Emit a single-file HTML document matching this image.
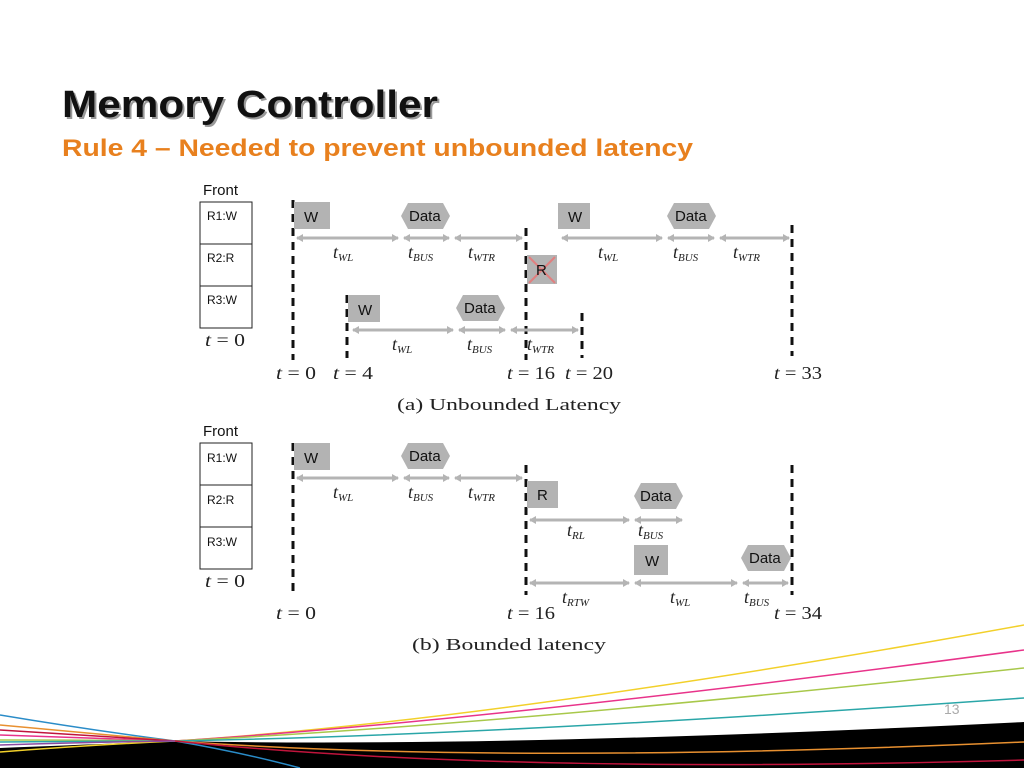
<!DOCTYPE html>
<html><head><meta charset="utf-8"><style>
html,body{margin:0;padding:0;background:#fff;}
svg{display:block;}
.m{font-family:"Liberation Serif",serif;font-style:italic;font-size:18px;fill:#222;}
.s{font-size:11px;}
.n{font-family:"Liberation Serif",serif;font-size:17px;fill:#222;}
.b{font-family:"Liberation Sans",sans-serif;font-size:15px;fill:#111;}
.f{font-family:"Liberation Sans",sans-serif;font-size:12px;fill:#111;}
.d{stroke:#111;stroke-width:3;stroke-dasharray:8,6;}
.a{stroke:#b4b4b4;stroke-width:3;marker-start:url(#ah);marker-end:url(#ah);}
.g{fill:#b3b3b3;}
</style></head><body>
<svg width="1024" height="768" viewBox="0 0 1024 768" xmlns="http://www.w3.org/2000/svg">
<defs>
<marker id="ah" markerWidth="8" markerHeight="8" refX="6" refY="4" orient="auto-start-reverse" markerUnits="userSpaceOnUse"><path d="M0,0 L7,4 L0,8 Z" fill="#b4b4b4"/></marker>
</defs>
<text x="64" y="119" font-family="Liberation Sans,sans-serif" font-weight="bold" font-size="38" fill="#999" textLength="376" lengthAdjust="spacingAndGlyphs">Memory Controller</text>
<text x="62" y="117" font-family="Liberation Sans,sans-serif" font-weight="bold" font-size="38" fill="#111" textLength="376" lengthAdjust="spacingAndGlyphs">Memory Controller</text>
<text x="62" y="156" font-family="Liberation Sans,sans-serif" font-weight="bold" font-size="24" fill="#e8801e" textLength="631" lengthAdjust="spacingAndGlyphs">Rule 4 – Needed to prevent unbounded latency</text>

<!-- (a) -->
<text x="203" y="195" class="b">Front</text>
<rect x="200" y="202" width="52" height="126" fill="#fff" stroke="#222" stroke-width="1"/>
<line x1="200" y1="244" x2="252" y2="244" stroke="#222"/><line x1="200" y1="286" x2="252" y2="286" stroke="#222"/>
<text x="207" y="220" class="f">R1:W</text><text x="207" y="262" class="f">R2:R</text><text x="207" y="304" class="f">R3:W</text>
<text x="205" y="346" class="m" textLength="40" lengthAdjust="spacingAndGlyphs">t <tspan font-style="normal">= 0</tspan></text>

<line x1="293" y1="200" x2="293" y2="360" class="d"/>
<rect x="294" y="202" width="36" height="27" class="g"/><text x="304" y="222" class="b">W</text>
<path d="M401,216 L408,203 L443,203 L450,216 L443,229 L408,229 Z" class="g"/><text x="409" y="221" class="b">Data</text>
<line x1="297" y1="238" x2="398" y2="238" class="a"/>
<line x1="404" y1="238" x2="449" y2="238" class="a"/>
<line x1="455" y1="238" x2="522" y2="238" class="a"/>
<text x="333" y="258" class="m">t<tspan class="s" dy="3">WL</tspan></text>
<text x="408" y="258" class="m">t<tspan class="s" dy="3">BUS</tspan></text>
<text x="468" y="258" class="m">t<tspan class="s" dy="3">WTR</tspan></text>
<line x1="526" y1="228" x2="526" y2="360" class="d"/>
<rect x="527" y="255" width="30" height="29" class="g"/>
<line x1="529" y1="257" x2="555" y2="283" stroke="#e08080" stroke-width="2"/><line x1="555" y1="257" x2="529" y2="283" stroke="#e08080" stroke-width="2"/>
<text x="536" y="275" class="b">R</text>
<rect x="558" y="203" width="32" height="26" class="g"/><text x="568" y="222" class="b">W</text>
<path d="M667,216 L674,203 L709,203 L716,216 L709,229 L674,229 Z" class="g"/><text x="675" y="221" class="b">Data</text>
<line x1="562" y1="238" x2="662" y2="238" class="a"/>
<line x1="668" y1="238" x2="714" y2="238" class="a"/>
<line x1="720" y1="238" x2="789" y2="238" class="a"/>
<text x="598" y="258" class="m">t<tspan class="s" dy="3">WL</tspan></text>
<text x="673" y="258" class="m">t<tspan class="s" dy="3">BUS</tspan></text>
<text x="733" y="258" class="m">t<tspan class="s" dy="3">WTR</tspan></text>
<line x1="792" y1="225" x2="792" y2="356" class="d"/>
<line x1="347" y1="295" x2="347" y2="358" class="d"/>
<rect x="348" y="295" width="32" height="27" class="g"/><text x="358" y="315" class="b">W</text>
<path d="M456,308 L463,295 L498,295 L505,308 L498,321 L463,321 Z" class="g"/><text x="464" y="313" class="b">Data</text>
<line x1="353" y1="330" x2="453" y2="330" class="a"/>
<line x1="459" y1="330" x2="505" y2="330" class="a"/>
<line x1="511" y1="330" x2="578" y2="330" class="a"/>
<text x="392" y="350" class="m">t<tspan class="s" dy="3">WL</tspan></text>
<text x="467" y="350" class="m">t<tspan class="s" dy="3">BUS</tspan></text>
<text x="527" y="350" class="m">t<tspan class="s" dy="3">WTR</tspan></text>
<line x1="582" y1="313" x2="582" y2="358" class="d"/>
<text x="276" y="379" class="m" textLength="40" lengthAdjust="spacingAndGlyphs">t <tspan font-style="normal">= 0</tspan></text>
<text x="333" y="379" class="m" textLength="40" lengthAdjust="spacingAndGlyphs">t <tspan font-style="normal">= 4</tspan></text>
<text x="507" y="379" class="m" textLength="48" lengthAdjust="spacingAndGlyphs">t <tspan font-style="normal">= 16</tspan></text>
<text x="565" y="379" class="m" textLength="48" lengthAdjust="spacingAndGlyphs">t <tspan font-style="normal">= 20</tspan></text>
<text x="774" y="379" class="m" textLength="48" lengthAdjust="spacingAndGlyphs">t <tspan font-style="normal">= 33</tspan></text>
<text x="397" y="410" class="n" font-size="22" textLength="224" lengthAdjust="spacingAndGlyphs">(a) Unbounded Latency</text>

<!-- (b) -->
<text x="203" y="436" class="b">Front</text>
<rect x="200" y="443" width="52" height="126" fill="#fff" stroke="#222" stroke-width="1"/>
<line x1="200" y1="485" x2="252" y2="485" stroke="#222"/><line x1="200" y1="527" x2="252" y2="527" stroke="#222"/>
<text x="207" y="462" class="f">R1:W</text><text x="207" y="504" class="f">R2:R</text><text x="207" y="546" class="f">R3:W</text>
<text x="205" y="587" class="m" textLength="40" lengthAdjust="spacingAndGlyphs">t <tspan font-style="normal">= 0</tspan></text>
<line x1="293" y1="443" x2="293" y2="595" class="d"/>
<rect x="294" y="443" width="36" height="27" class="g"/><text x="304" y="463" class="b">W</text>
<path d="M401,456 L408,443 L443,443 L450,456 L443,469 L408,469 Z" class="g"/><text x="409" y="461" class="b">Data</text>
<line x1="297" y1="478" x2="398" y2="478" class="a"/>
<line x1="404" y1="478" x2="449" y2="478" class="a"/>
<line x1="455" y1="478" x2="522" y2="478" class="a"/>
<text x="333" y="498" class="m">t<tspan class="s" dy="3">WL</tspan></text>
<text x="408" y="498" class="m">t<tspan class="s" dy="3">BUS</tspan></text>
<text x="468" y="498" class="m">t<tspan class="s" dy="3">WTR</tspan></text>
<line x1="526" y1="465" x2="526" y2="595" class="d"/>
<rect x="527" y="481" width="31" height="27" class="g"/><text x="537" y="500" class="b">R</text>
<path d="M634,496 L641,483 L676,483 L683,496 L676,509 L641,509 Z" class="g"/><text x="640" y="501" class="b">Data</text>
<line x1="530" y1="520" x2="629" y2="520" class="a"/>
<line x1="635" y1="520" x2="682" y2="520" class="a"/>
<text x="567" y="536" class="m">t<tspan class="s" dy="3">RL</tspan></text>
<text x="638" y="536" class="m">t<tspan class="s" dy="3">BUS</tspan></text>
<rect x="634" y="545" width="34" height="30" class="g"/><text x="645" y="566" class="b">W</text>
<path d="M741,558 L748,545 L784,545 L791,558 L784,571 L748,571 Z" class="g"/><text x="749" y="563" class="b">Data</text>
<line x1="530" y1="583" x2="629" y2="583" class="a"/>
<line x1="635" y1="583" x2="737" y2="583" class="a"/>
<line x1="743" y1="583" x2="788" y2="583" class="a"/>
<text x="562" y="603" class="m">t<tspan class="s" dy="3">RTW</tspan></text>
<text x="670" y="603" class="m">t<tspan class="s" dy="3">WL</tspan></text>
<text x="744" y="603" class="m">t<tspan class="s" dy="3">BUS</tspan></text>
<line x1="792" y1="465" x2="792" y2="595" class="d"/>
<text x="276" y="619" class="m" textLength="40" lengthAdjust="spacingAndGlyphs">t <tspan font-style="normal">= 0</tspan></text>
<text x="507" y="619" class="m" textLength="48" lengthAdjust="spacingAndGlyphs">t <tspan font-style="normal">= 16</tspan></text>
<text x="774" y="619" class="m" textLength="48" lengthAdjust="spacingAndGlyphs">t <tspan font-style="normal">= 34</tspan></text>
<text x="412" y="650" class="n" font-size="22" textLength="194" lengthAdjust="spacingAndGlyphs">(b) Bounded latency</text>

<!-- decorative swoosh -->
<path d="M0,768 L0,748 Q100,744 175,741 Q500,748 1024,722 L1024,768 Z" fill="#000"/>
<g fill="none" stroke-width="1.5">
<path d="M0,752 Q90,745 175,741 Q500,720 1024,625" stroke="#f2d02a"/>
<path d="M0,735 Q90,738 175,741 Q500,720 1024,650" stroke="#e8338a"/>
<path d="M0,740 Q90,740 175,741 Q500,725 1024,668" stroke="#a8c84a"/>
<path d="M0,742 Q90,741 175,741 Q500,735 1024,698" stroke="#2aa6a8"/>
<path d="M0,715 Q90,730 175,741 Q240,752 300,768" stroke="#2a8cc8"/>
<path d="M0,725 Q90,733 175,741 Q500,765 1024,742" stroke="#e89030"/>
<path d="M0,730 Q90,736 175,741 Q500,775 1024,760" stroke="#c0143c"/>
<path d="M0,745 Q90,742 175,741" stroke="#8a4aa0"/>
</g>
<text x="944" y="714" font-family="Liberation Sans,sans-serif" font-size="14" fill="#aaa">13</text>
</svg>
</body></html>
